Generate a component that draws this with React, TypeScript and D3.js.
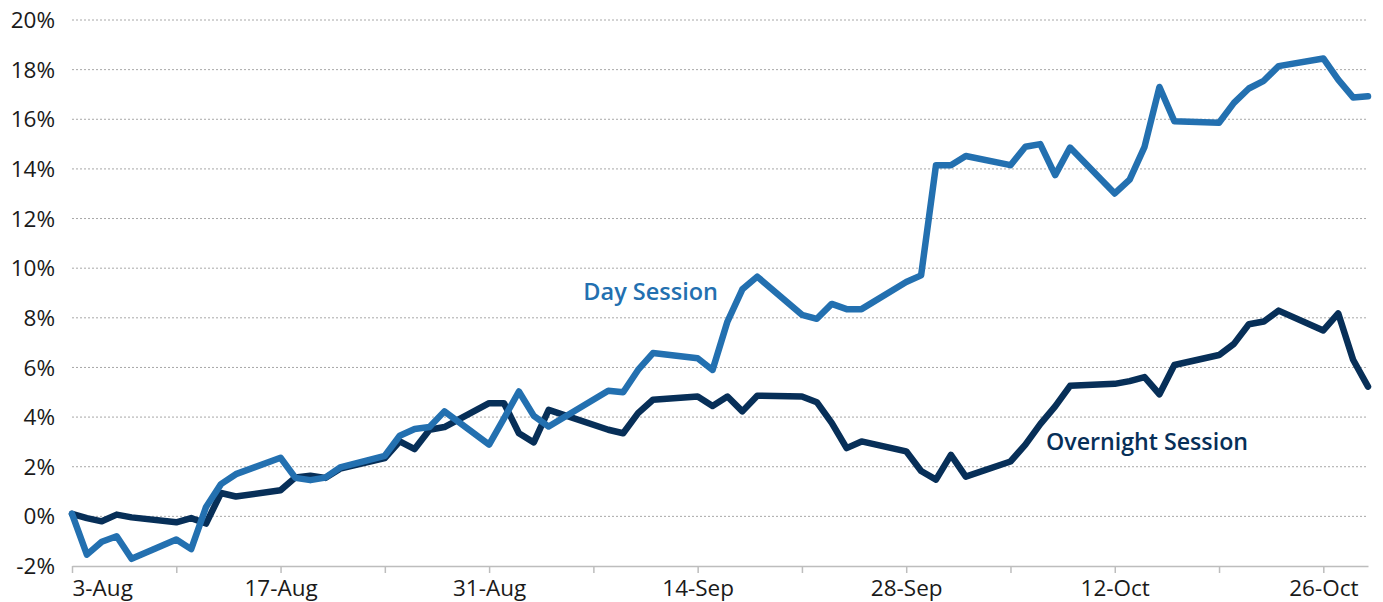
import * as d3 from 'd3';
import { useEffect, useRef } from 'react';

const WIDTH = 1383;
const HEIGHT = 602;

// trading days, Aug 3 – Oct 29 2020 (Labor Day closed)
const dates = [
  '2020-08-03', '2020-08-04', '2020-08-05', '2020-08-06', '2020-08-07',
  '2020-08-10', '2020-08-11', '2020-08-12', '2020-08-13', '2020-08-14',
  '2020-08-17', '2020-08-18', '2020-08-19', '2020-08-20', '2020-08-21',
  '2020-08-24', '2020-08-25', '2020-08-26', '2020-08-27', '2020-08-28',
  '2020-08-31', '2020-09-01', '2020-09-02', '2020-09-03', '2020-09-04',
  '2020-09-08', '2020-09-09', '2020-09-10', '2020-09-11',
  '2020-09-14', '2020-09-15', '2020-09-16', '2020-09-17', '2020-09-18',
  '2020-09-21', '2020-09-22', '2020-09-23', '2020-09-24', '2020-09-25',
  '2020-09-28', '2020-09-29', '2020-09-30', '2020-10-01', '2020-10-02',
  '2020-10-05', '2020-10-06', '2020-10-07', '2020-10-08', '2020-10-09',
  '2020-10-12', '2020-10-13', '2020-10-14', '2020-10-15', '2020-10-16',
  '2020-10-19', '2020-10-20', '2020-10-21', '2020-10-22', '2020-10-23',
  '2020-10-26', '2020-10-27', '2020-10-28', '2020-10-29',
];

// cumulative return, %
const daySession = [
  0.1, -1.54, -1.02, -0.8, -1.71, -0.93, -1.32, 0.38, 1.3, 1.7,
  2.36, 1.55, 1.46, 1.56, 1.97, 2.44, 3.25, 3.52, 3.6, 4.23,
  2.89, 3.95, 5.03, 4.05, 3.62, 5.06, 5.0, 5.9, 6.58,
  6.37, 5.9, 7.85, 9.15, 9.66, 8.12, 7.96, 8.56, 8.35, 8.35,
  9.44, 9.71, 14.15, 14.15, 14.52, 14.15, 14.89, 15.0, 13.75, 14.86,
  13.01, 13.57, 14.89, 17.3, 15.92, 15.86, 16.66, 17.24, 17.55, 18.14,
  18.45, 17.6, 16.88, 16.93,
];

const overnightSession = [
  0.1, -0.07, -0.2, 0.07, -0.04, -0.24, -0.07, -0.29, 0.94, 0.8,
  1.05, 1.57, 1.64, 1.55, 1.92, 2.35, 3.02, 2.71, 3.49, 3.6,
  4.56, 4.56, 3.35, 2.98, 4.29, 3.49, 3.35, 4.16, 4.7,
  4.83, 4.45, 4.83, 4.23, 4.86, 4.83, 4.6, 3.77, 2.75, 3.02,
  2.62, 1.83, 1.48, 2.48, 1.6, 2.21, 2.89, 3.72, 4.43, 5.26,
  5.34, 5.45, 5.61, 4.92, 6.1, 6.5, 6.95, 7.74, 7.85, 8.29,
  7.49, 8.18, 6.31, 5.23,
];

const yTicks = [-2, 0, 2, 4, 6, 8, 10, 12, 14, 16, 18, 20];
const labelledWeeks = ['2020-08-03', '2020-08-17', '2020-08-31', '2020-09-14', '2020-09-28', '2020-10-12', '2020-10-26'];
const otherWeeks = ['2020-08-10', '2020-08-24', '2020-09-07', '2020-09-21', '2020-10-05', '2020-10-19'];
const xStart = '2020-08-03';
const xEnd = '2020-10-29';

const DAY_COLOR = '#2370b0';
const NIGHT_COLOR = '#072f58';
const FONT = "'Open Sans', 'Noto Sans', sans-serif";

const parse = d3.utcParse('%Y-%m-%d');

export default function App() {
  const svgRef = useRef<SVGSVGElement>(null);

  useEffect(() => {
    if (!svgRef.current) return;
    const svg = d3.select(svgRef.current);
    svg.selectAll('*').remove();

    const margin = { top: 20, right: 15, bottom: 36, left: 72 };
    const x = d3
      .scaleUtc()
      .domain([parse(xStart)!, parse(xEnd)!])
      .range([margin.left, WIDTH - margin.right]);
    const y = d3
      .scaleLinear()
      .domain([-2, 20])
      .range([HEIGHT - margin.bottom, margin.top]);

    // gridlines
    svg
      .append('g')
      .selectAll('line')
      .data(yTicks.filter((d) => d > -2))
      .join('line')
      .attr('x1', margin.left)
      .attr('x2', WIDTH - margin.right)
      .attr('y1', (d) => y(d))
      .attr('y2', (d) => y(d))
      .attr('stroke', '#a8a8a8')
      .attr('stroke-width', 1)
      .attr('stroke-dasharray', '2,2');

    // y labels
    svg
      .append('g')
      .selectAll('text')
      .data(yTicks)
      .join('text')
      .attr('x', 55)
      .attr('y', (d) => y(d))
      .attr('dy', '0.36em')
      .attr('text-anchor', 'end')
      .attr('font-family', FONT)
      .attr('font-size', 22.5)
      .attr('fill', '#1a1a1a')
      .text((d) => `${d}%`);

    // x axis
    const labelled = new Set(labelledWeeks);
    const weeks = [...labelledWeeks, ...otherWeeks].sort();
    const axis = d3
      .axisBottom(x)
      .tickValues(weeks.map((d) => parse(d)!))
      .tickSize(7)
      .tickSizeOuter(0)
      .tickFormat((d) => {
        const s = d3.utcFormat('%Y-%m-%d')(d as Date);
        return labelled.has(s) ? d3.utcFormat('%-d-%b')(d as Date) : '';
      });
    const gx = svg
      .append('g')
      .attr('transform', `translate(0,${y(-2)})`)
      .call(axis);
    gx.select('.domain').attr('stroke', '#bdbdbd').attr('stroke-width', 1.5);
    gx.selectAll('.tick line').attr('stroke', '#bdbdbd').attr('stroke-width', 1.5);
    gx.selectAll('.tick text')
      .attr('font-family', FONT)
      .attr('font-size', 22.5)
      .attr('fill', '#1a1a1a')
      .attr('y', 30)
      .attr('dy', 0);
    gx.selectAll<SVGTextElement, Date>('.tick text')
      .filter((d) => +d === +parse(xStart)!)
      .attr('text-anchor', 'start');

    // lines
    const points = dates.map((d) => parse(d)!);
    const line = d3
      .line<number>()
      .x((d, i) => x(points[i]))
      .y((d) => y(d));

    svg
      .append('path')
      .datum(overnightSession)
      .attr('fill', 'none')
      .attr('stroke', NIGHT_COLOR)
      .attr('stroke-width', 6.5)
      .attr('stroke-linejoin', 'round')
      .attr('stroke-linecap', 'round')
      .attr('d', line);

    svg
      .append('path')
      .datum(daySession)
      .attr('fill', 'none')
      .attr('stroke', DAY_COLOR)
      .attr('stroke-width', 6.5)
      .attr('stroke-linejoin', 'round')
      .attr('stroke-linecap', 'round')
      .attr('d', line);

    // series labels
    svg
      .append('text')
      .attr('x', 718)
      .attr('y', 300)
      .attr('text-anchor', 'end')
      .attr('font-family', FONT)
      .attr('font-size', 23.5)
      .attr('font-weight', 600)
      .attr('fill', DAY_COLOR)
      .text('Day Session');

    svg
      .append('text')
      .attr('x', 1046)
      .attr('y', 450)
      .attr('font-family', FONT)
      .attr('font-size', 23.2)
      .attr('font-weight', 600)
      .attr('fill', NIGHT_COLOR)
      .text('Overnight Session');
  }, []);

  return (
    <div style={{ position: 'absolute', left: 0, top: 0, background: '#fff' }}>
      <svg ref={svgRef} width={WIDTH} height={HEIGHT} viewBox={`0 0 ${WIDTH} ${HEIGHT}`} />
    </div>
  );
}
